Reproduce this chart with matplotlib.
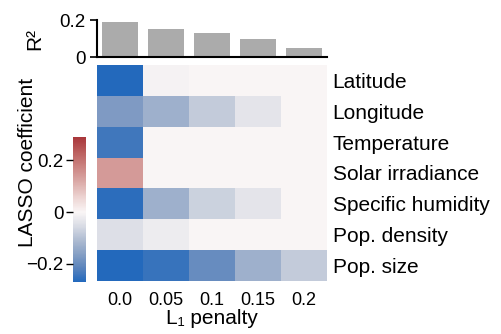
import numpy as np
import matplotlib
matplotlib.use("Agg")
import matplotlib.pyplot as plt
from matplotlib.colors import LinearSegmentedColormap
import seaborn as sns

plt.rcParams['font.family'] = ['Liberation Sans', 'DejaVu Sans']
plt.rcParams['font.size'] = 13

# 数据
penalties = ['0.0', '0.05', '0.1', '0.15', '0.2']
features = ['Latitude', 'Longitude', 'Temperature', 'Solar irradiance',
            'Specific humidity', 'Pop. density', 'Pop. size']
r2 = [0.19, 0.152, 0.128, 0.096, 0.05]

latitude = [-0.27, -0.006, 0.0, 0.0, 0.0]
longitude = [-0.17, -0.13, -0.08, -0.035, 0.0]
temperature = [-0.24, 0.0, 0.0, 0.0, 0.0]
solar = [0.14, 0.0, 0.0, 0.0, 0.0]
humidity = [-0.26, -0.13, -0.07, -0.035, 0.0]
pop_density = [-0.045, -0.02, 0.0, 0.0, 0.0]
pop_size = [-0.275, -0.25, -0.2, -0.13, -0.08]

coef = np.array([latitude, longitude, temperature, solar, humidity,
                 pop_density, pop_size])

vmin, vmax = -0.27, 0.29

# vlag 色图，中间（0 处）换成偏白的颜色
base = sns.color_palette("vlag", as_cmap=True)
p0 = -vmin / (vmax - vmin)
blue = [(p0 * t, base(0.5 * t)) for t in np.linspace(0, 1, 6)[:-1]]
red = [(p0 + (1 - p0) * t, base(0.5 + 0.5 * t)) for t in np.linspace(0, 1, 6)[1:]]
cmap = LinearSegmentedColormap.from_list('vlag2', blue + [(p0, '#faf6f6')] + red)

fig = plt.figure(figsize=(5.01, 3.34), dpi=100)

# 热图
ax = fig.add_axes([0.1936, 0.1587, 0.459, 0.6467])
im = ax.imshow(coef, cmap=cmap, vmin=vmin, vmax=vmax, aspect='auto')
ax.set_xticks(range(len(penalties)))
ax.set_xticklabels(penalties)
ax.set_yticks(range(len(features)))
ax.set_yticklabels(features, fontsize=15)
ax.yaxis.tick_right()
ax.tick_params(length=0)
ax.tick_params(axis='x', pad=8)
ax.tick_params(axis='y', pad=4)
for s in ax.spines.values():
    s.set_visible(False)
ax.set_xlabel('L₁ penalty', fontsize=15, labelpad=0)

# R² 柱状图
axb = fig.add_axes([0.1936, 0.829, 0.459, 0.111])
axb.bar(range(len(r2)), r2, width=0.78, color='#ababab')
axb.set_xlim(-0.5, len(r2) - 0.5)
axb.set_ylim(0, 0.2)
axb.set_yticks([0, 0.2])
axb.set_yticklabels(['0', '0.2'])
axb.set_xticks([])
axb.spines['top'].set_visible(False)
axb.spines['right'].set_visible(False)
axb.spines['left'].set_linewidth(1.5)
axb.spines['bottom'].set_linewidth(1.5)
axb.tick_params(axis='y', length=5, width=1.2, pad=3, labelsize=13.5)
axb.set_ylabel('R²', fontsize=15, labelpad=11)

# 颜色条
cax = fig.add_axes([0.1457, 0.1557, 0.026, 0.434])
cb = fig.colorbar(im, cax=cax)
cb.outline.set_visible(False)
cax.yaxis.set_ticks_position('left')
cb.set_ticks([-0.2, 0, 0.2])
cb.set_ticklabels(['−0.2', '0', '0.2'])
cax.tick_params(length=5, width=1, pad=2, labelsize=13.5)

fig.text(0.055, 0.513, 'LASSO coefficient', rotation=90, ha='center',
         va='center', fontsize=15)

fig.savefig('out.png', dpi=100)
